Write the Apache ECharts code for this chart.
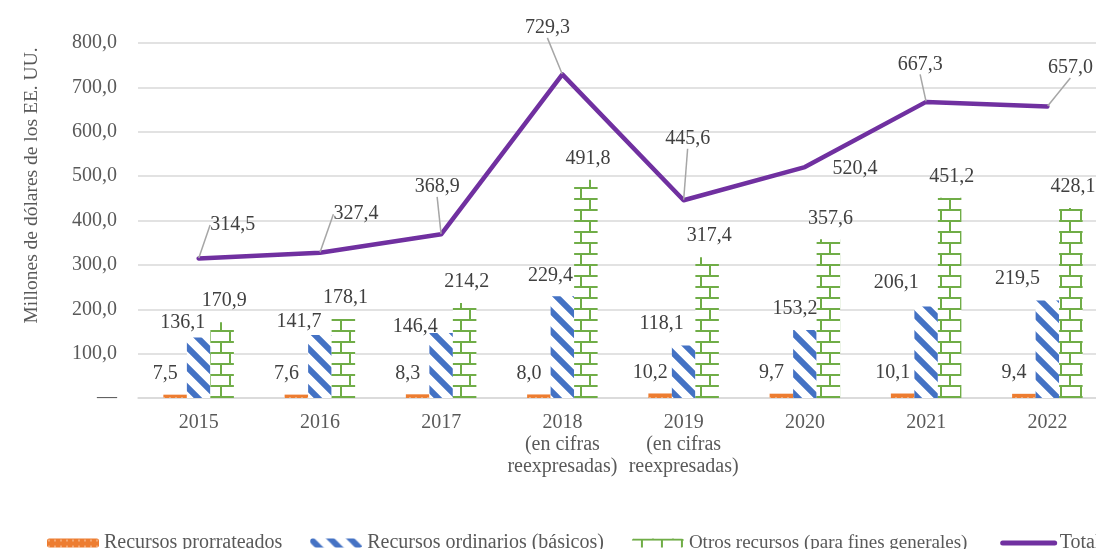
<!DOCTYPE html>
<html>
<head>
<meta charset="utf-8">
<title>Recursos</title>
<script src="https://cdn.jsdelivr.net/npm/echarts@6/dist/echarts.min.js"></script>
<style>
  html, body { margin: 0; padding: 0; background: #fff; }
  #chart { width: 1096px; height: 549px; }
</style>
</head>
<body>
<div id="chart"></div>
<script>
// datos del gráfico
var categories = ['2015', '2016', '2017', '2018\n(en cifras\nreexpresadas)', '2019\n(en cifras\nreexpresadas)', '2020', '2021', '2022'];
var prorrateados = [7.5, 7.6, 8.3, 8.0, 10.2, 9.7, 10.1, 9.4];
var ordinarios = [136.1, 141.7, 146.4, 229.4, 118.1, 153.2, 206.1, 219.5];
var otros = [170.9, 178.1, 214.2, 491.8, 317.4, 357.6, 451.2, 428.1];
var total = [314.5, 327.4, 368.9, 729.3, 445.6, 520.4, 667.3, 657.0];
var yTicks = { min: 0, max: 800, interval: 100 };

// desplazamiento de etiquetas (como en el original)
var blueNudge = [[-16, 0], [-21, 2], [-26, 9], [-12, -5], [-22, -7], [-10, -6], [-30, -9], [-30, -7]];
var totalNudge = [[34, -18], [36, -23], [-4, -32], [-15, -31], [4, -46], [50, 17], [-6, -22], [23, -23]];

var FONT = 'Liberation Serif';

function fmt(v) {
    return Number(v).toFixed(1).replace('.', ',');
}

// tramas de relleno
function patternOrange() {
    var c = document.createElement('canvas');
    c.width = 6; c.height = 6;
    var ctx = c.getContext('2d');
    ctx.fillStyle = '#ED7D31';
    ctx.fillRect(0, 0, 6, 6);
    ctx.fillStyle = '#F4A873';
    ctx.fillRect(1, 1, 2, 2);
    return c;
}
function patternStripes() {
    var s = 20;
    var c = document.createElement('canvas');
    c.width = s; c.height = s;
    var ctx = c.getContext('2d');
    ctx.fillStyle = '#ffffff';
    ctx.fillRect(0, 0, s, s);
    ctx.strokeStyle = '#4472C4';
    ctx.lineWidth = 6;
    ctx.beginPath();
    for (var k = -1; k <= 1; k++) {
        ctx.moveTo(-s, -s + k * s);
        ctx.lineTo(2 * s, 2 * s + k * s);
    }
    ctx.stroke();
    return c;
}
function patternBricks() {
    // ladrillo horizontal: filas de ~11 px, juntas alternas
    var w = 20, h = 22;
    var c = document.createElement('canvas');
    c.width = w; c.height = h;
    var ctx = c.getContext('2d');
    ctx.fillStyle = '#ffffff';
    ctx.fillRect(0, 0, w, h);
    ctx.fillStyle = '#70AD47';
    ctx.fillRect(0, 0, w, 2);
    ctx.fillRect(0, 11, w, 2);
    ctx.fillRect(9, 0, 2, 11);
    ctx.fillRect(0, 11, 2, 11);
    return c;
}

var labelText = { fontFamily: FONT, fontSize: 20, color: '#404040' };

var chart = echarts.init(document.getElementById('chart'));
var option = {
    backgroundColor: '#ffffff',
    animation: false,
    textStyle: { fontFamily: FONT },
    grid: { left: 138, top: 43, width: 970, height: 355, outerBoundsMode: 'none', containLabel: false },
    legend: {
        left: 42,
        top: 528,
        width: 1400,
        itemWidth: 52,
        itemHeight: 9,
        itemGap: 28,
        textStyle: { fontFamily: FONT, fontSize: 20, color: '#595959' },
        formatter: function (name) {
            return name === 'Otros recursos (para fines generales)' ? name + ' ' : name;
        },
        data: [
            'Recursos prorrateados',
            'Recursos ordinarios (básicos)',
            { name: 'Otros recursos (para fines generales)', textStyle: { fontSize: 19 } },
            { name: 'Total', itemStyle: { opacity: 0 }, lineStyle: { width: 5, cap: 'round' } }
        ]
    },
    xAxis: {
        type: 'category',
        data: categories,
        axisTick: { show: false },
        axisLine: { lineStyle: { color: '#d9d9d9', width: 1.5 } },
        axisLabel: { interval: 0, margin: 14, fontFamily: FONT, fontSize: 20, lineHeight: 22, color: '#595959' }
    },
    yAxis: {
        type: 'value',
        min: yTicks.min,
        max: yTicks.max,
        interval: yTicks.interval,
        name: 'Millones de dólares de los EE. UU.',
        nameLocation: 'middle',
        nameRotate: 90,
        nameGap: 96,
        nameTextStyle: { fontFamily: FONT, fontSize: 19.5, color: '#595959', padding: [0, 0, 0, 70] },
        axisLine: { show: false },
        axisTick: { show: false },
        splitLine: { lineStyle: { color: '#d9d9d9', width: 1.5 } },
        axisLabel: {
            margin: 21,
            fontFamily: FONT, fontSize: 20, color: '#595959',
            formatter: function (v) { return v === 0 ? '—' : fmt(v); }
        }
    },
    series: [
        {
            name: 'Recursos prorrateados',
            type: 'bar',
            data: prorrateados,
            barWidth: 23.5,
            barGap: '0%',
            itemStyle: { color: { image: patternOrange(), repeat: 'repeat' } },
            label: Object.assign({ show: true, position: 'top', offset: [-10, -6], formatter: function (p) { return fmt(p.value); } }, labelText)
        },
        {
            name: 'Recursos ordinarios (básicos)',
            type: 'bar',
            data: ordinarios,
            barWidth: 23.5,
            barGap: '0%',
            itemStyle: { color: { image: patternStripes(), repeat: 'repeat' } },
            label: Object.assign({ show: true, position: 'top', formatter: function (p) { return fmt(p.value); } }, labelText),
            labelLayout: function (p) {
                return { dx: blueNudge[p.dataIndex][0], dy: blueNudge[p.dataIndex][1] };
            }
        },
        {
            name: 'Otros recursos (para fines generales)',
            type: 'bar',
            data: otros,
            barWidth: 23.5,
            barGap: '0%',
            itemStyle: { color: { image: patternBricks(), repeat: 'repeat' } },
            label: Object.assign({ show: true, position: 'top', offset: [2, -6], formatter: function (p) { return fmt(p.value); } }, labelText)
        },
        {
            name: 'Total',
            type: 'line',
            z: 5,
            data: total.map(function (v, i) {
                return { value: v, labelLine: { show: i !== 5 } };
            }),
            symbol: 'circle',
            symbolSize: 1,
            showSymbol: true,
            itemStyle: { color: '#7030A0' },
            lineStyle: { color: '#7030A0', width: 4.5, cap: 'round', join: 'round' },
            label: Object.assign({ show: true, position: 'top', formatter: function (p) { return fmt(p.value); } }, labelText),
            labelLine: { show: true, lineStyle: { color: '#a6a6a6', width: 1.5 } },
            labelLayout: function (p) {
                return { dx: totalNudge[p.dataIndex][0], dy: totalNudge[p.dataIndex][1] };
            }
        }
    ]
};
chart.setOption(option);
</script>
</body>
</html>
